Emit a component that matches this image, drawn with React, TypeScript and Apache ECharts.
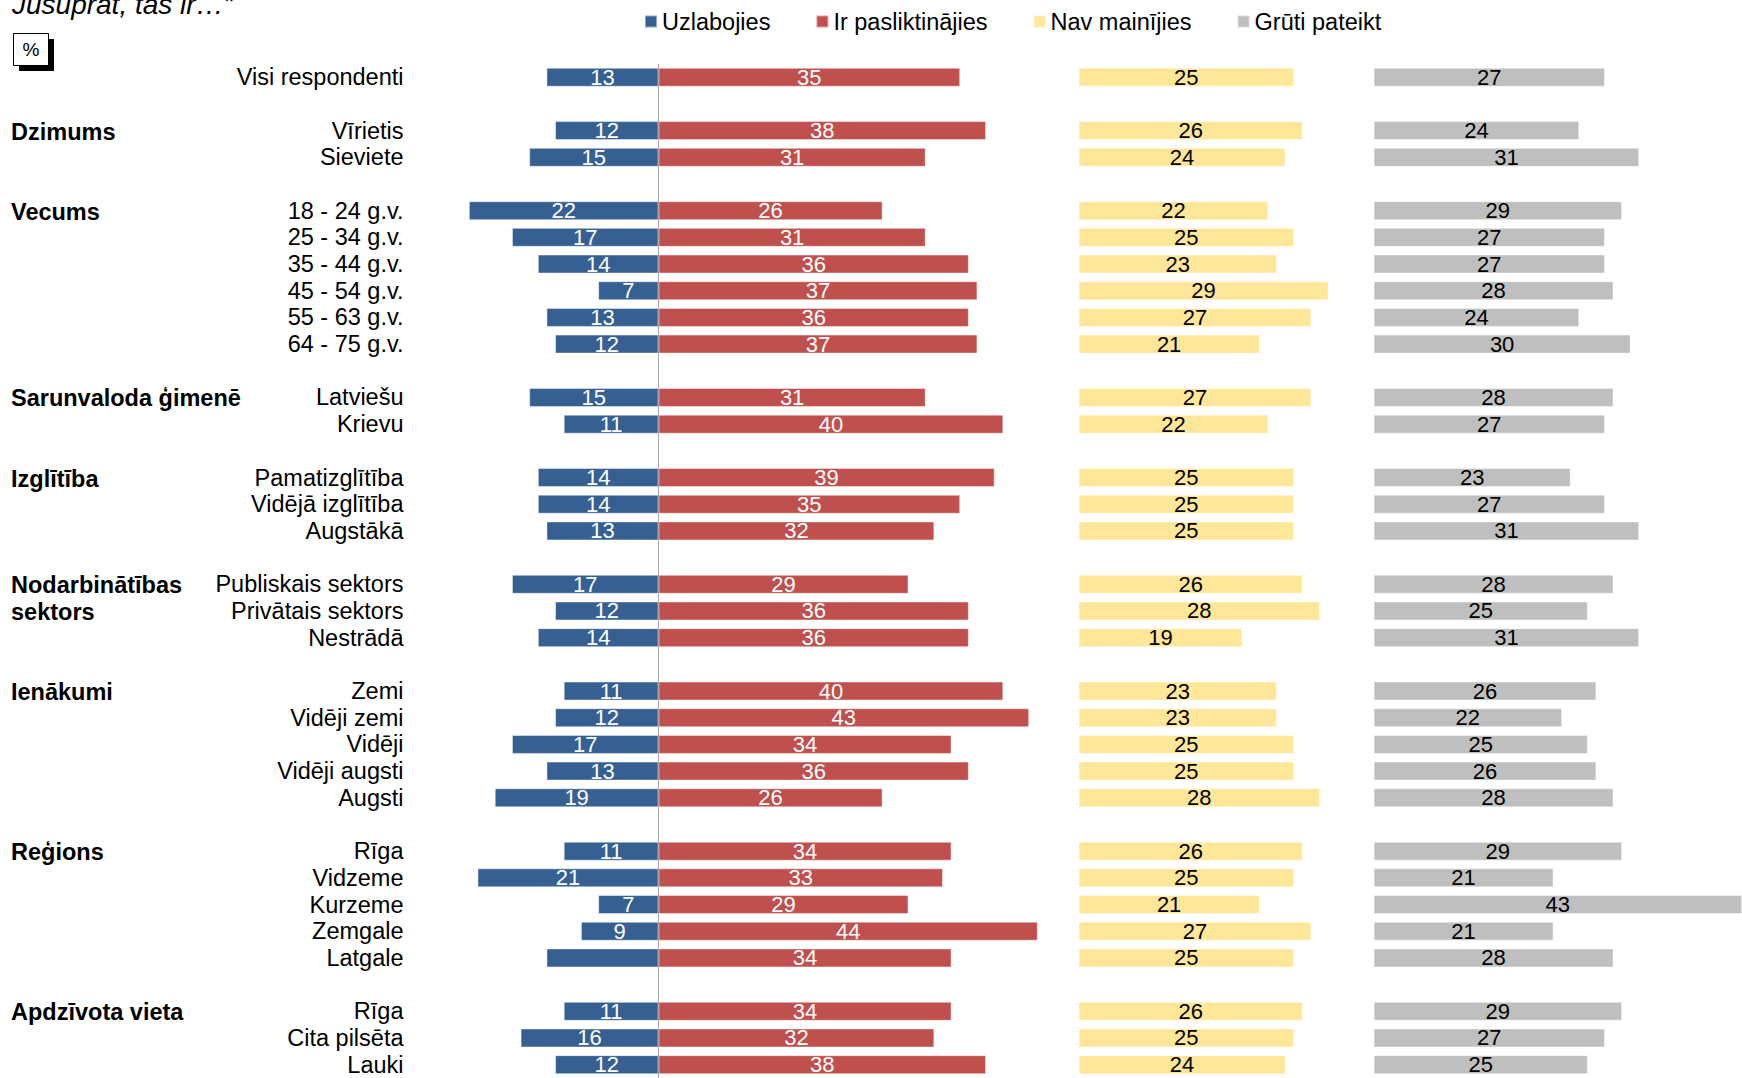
import React, { useEffect, useRef } from "react";
import * as echarts from "echarts";

const rowLabels = [
  "Visi respondenti",
  "Vīrietis", "Sieviete",
  "18 - 24 g.v.", "25 - 34 g.v.", "35 - 44 g.v.", "45 - 54 g.v.", "55 - 63 g.v.", "64 - 75 g.v.",
  "Latviešu", "Krievu",
  "Pamatizglītība", "Vidējā izglītība", "Augstākā",
  "Publiskais sektors", "Privātais sektors", "Nestrādā",
  "Zemi", "Vidēji zemi", "Vidēji", "Vidēji augsti", "Augsti",
  "Rīga", "Vidzeme", "Kurzeme", "Zemgale", "Latgale",
  "Rīga", "Cita pilsēta", "Lauki",
];
const groupStarts = [1, 3, 9, 11, 14, 17, 22, 27];
const groupTitles = [
  "Dzimums", "Vecums", "Sarunvaloda ģimenē", "Izglītība",
  "Nodarbinātības\nsektors", "Ienākumi", "Reģions", "Apdzīvota vieta",
];
const improved = [13, 12, 15, 22, 17, 14, 7, 13, 12, 15, 11, 14, 14, 13, 17, 12, 14, 11, 12, 17, 13, 19, 11, 21, 7, 9, 13, 11, 16, 12];
const worsened = [35, 38, 31, 26, 31, 36, 37, 36, 37, 31, 40, 39, 35, 32, 29, 36, 36, 40, 43, 34, 36, 26, 34, 33, 29, 44, 34, 34, 32, 38];
const unchanged = [25, 26, 24, 22, 25, 23, 29, 27, 21, 27, 22, 25, 25, 25, 26, 28, 19, 23, 23, 25, 25, 28, 26, 25, 21, 27, 25, 26, 25, 24];
const hardToSay = [27, 24, 31, 29, 27, 27, 28, 24, 30, 28, 27, 23, 27, 31, 28, 25, 31, 26, 22, 25, 26, 28, 29, 21, 43, 21, 28, 29, 27, 25];
const improvedUnlabelled = [26];
const seriesNames = ["Uzlabojies", "Ir pasliktinājies", "Nav mainījies", "Grūti pateikt"];
const titleText = "Jūsuprāt, tās ir…”";
const unitText = "%";

const FONT = '"Liberation Sans", Arial, sans-serif';
const COLORS = ["#376092", "#C0504D", "#FFE699", "#BFBFBF"];

// layout
const U = 8.62; // px per percent
const ZERO_X = 658.5;
const GRID_TOP = 63.9;
const BAND = 26.77;

const slotRow: (number | null)[] = [];
rowLabels.forEach((_, i) => {
  if (groupStarts.includes(i)) slotRow.push(null);
  slotRow.push(i);
});
const categories = slotRow.map((r) => (r === null ? "" : rowLabels[r]));
const toSlots = (arr: number[], sign = 1) =>
  slotRow.map((r) => (r === null ? "-" : sign * arr[r]));

export default function App() {
  const ref = useRef<HTMLDivElement>(null);
  useEffect(() => {
    const chart = echarts.init(ref.current!, null, { renderer: "svg", width: 1742, height: 1078 });
    const gridH = BAND * slotRow.length;
    const g1min = -25, g1max = 45;
    const g2max = 32, g3max = 43;
    const grids = [
      { left: ZERO_X + g1min * U, top: GRID_TOP, width: (g1max - g1min) * U, height: gridH },
      { left: 1078.6, top: GRID_TOP, width: g2max * U, height: gridH },
      { left: 1373.6, top: GRID_TOP, width: g3max * U, height: gridH },
    ];
    const yAxes = grids.map((_, i) => ({
      type: "category",
      gridIndex: i,
      data: categories,
      inverse: true,
      axisLine: { show: false },
      axisTick: { show: false },
      splitLine: { show: false },
      axisLabel: {
        show: i === 0,
        interval: 0,
        margin: 39.5,
        align: "right",
        fontSize: 23.5,
        fontFamily: FONT,
        color: "#000",
      },
    }));
    const xAxes = [
      { type: "value", gridIndex: 0, min: g1min, max: g1max, show: false },
      { type: "value", gridIndex: 1, min: 0, max: g2max, show: false },
      { type: "value", gridIndex: 2, min: 0, max: g3max, show: false },
    ];
    const barCommon = {
      type: "bar",
      barWidth: 19,
      itemStyle: { borderColor: "rgba(255,255,255,0.45)", borderWidth: 1 },
    };
    const labelStyle = (color: string) => ({
      show: true,
      position: "inside",
      fontSize: 22,
      fontFamily: FONT,
      color,
      formatter: (p: any) => String(Math.abs(p.value)),
    });
    const blueData = slotRow.map((r) =>
      r === null
        ? "-"
        : improvedUnlabelled.includes(r)
        ? { value: -improved[r], label: { show: false } }
        : -improved[r]
    );
    const option: any = {
      animation: false,
      backgroundColor: "#fff",
      color: COLORS,
      legend: {
        data: seriesNames,
        left: 644,
        top: 9.5,
        padding: 0,
        itemGap: 45,
        itemWidth: 12,
        itemHeight: 12,
        icon: "rect",
        textStyle: { fontSize: 23.5, fontFamily: FONT, color: "#000" },
      },
      grid: grids,
      xAxis: xAxes,
      yAxis: yAxes,
      series: [
        {
          ...barCommon,
          name: seriesNames[0],
          xAxisIndex: 0,
          yAxisIndex: 0,
          barGap: "-100%",
          data: blueData,
          itemStyle: { ...barCommon.itemStyle, color: COLORS[0] },
          label: labelStyle("#fff"),
          markLine: {
            silent: true,
            symbol: ["none", "none"],
            label: { show: false },
            lineStyle: { color: "#A6A6A6", width: 1, type: "solid" },
            data: [{ xAxis: 0 }],
          },
        },
        {
          ...barCommon,
          name: seriesNames[1],
          xAxisIndex: 0,
          yAxisIndex: 0,
          barGap: "-100%",
          data: toSlots(worsened),
          itemStyle: { ...barCommon.itemStyle, color: COLORS[1] },
          label: labelStyle("#fff"),
        },
        {
          ...barCommon,
          name: seriesNames[2],
          xAxisIndex: 1,
          yAxisIndex: 1,
          data: toSlots(unchanged),
          itemStyle: { ...barCommon.itemStyle, color: COLORS[2] },
          label: labelStyle("#000"),
        },
        {
          ...barCommon,
          name: seriesNames[3],
          xAxisIndex: 2,
          yAxisIndex: 2,
          data: toSlots(hardToSay),
          itemStyle: { ...barCommon.itemStyle, color: COLORS[3] },
          label: labelStyle("#000"),
        },
      ],
    };
    chart.setOption(option);

    const graphics: any[] = [
      {
        type: "text",
        x: 12,
        y: 4,
        style: {
          text: titleText,
          font: `italic 28px ${FONT}`,
          fill: "#000",
          align: "left",
          verticalAlign: "middle",
          textAlign: "left",
          textVerticalAlign: "middle",
        },
      },
      { type: "rect", shape: { x: 19, y: 39, width: 35, height: 32 }, style: { fill: "#000" } },
      {
        type: "rect",
        shape: { x: 13.5, y: 33.5, width: 35, height: 32 },
        style: { fill: "#fff", stroke: "#000", lineWidth: 1 },
      },
      {
        type: "text",
        x: 31,
        y: 49.5,
        style: {
          text: unitText,
          font: `19px ${FONT}`,
          fill: "#000",
          align: "center",
          verticalAlign: "middle",
          textAlign: "center",
          textVerticalAlign: "middle",
        },
      },
    ];
    groupStarts.forEach((rowIdx, g) => {
      const slot = slotRow.indexOf(rowIdx);
      groupTitles[g].split("\n").forEach((line, k) => {
        const y = chart.convertToPixel({ yAxisIndex: 0 } as any, slot + k) as number;
        graphics.push({
          type: "text",
          x: 11,
          y: y + 1,
          style: {
            text: line,
            font: `bold 23.5px ${FONT}`,
            fill: "#000",
            align: "left",
            verticalAlign: "middle",
            textAlign: "left",
            textVerticalAlign: "middle",
          },
        });
      });
    });
    chart.setOption({ graphic: graphics });
    return () => chart.dispose();
  }, []);
  return (
    <div
      ref={ref}
      style={{ position: "absolute", left: 0, top: 0, width: 1742, height: 1078, overflow: "hidden" }}
    />
  );
}
